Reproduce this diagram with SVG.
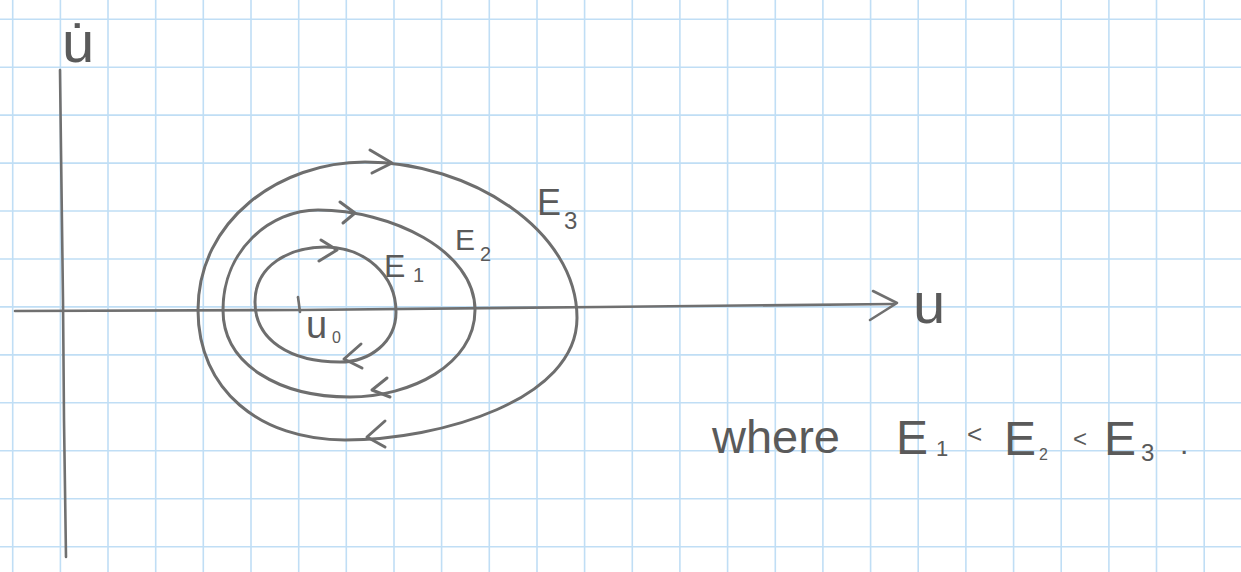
<svg xmlns="http://www.w3.org/2000/svg" width="1241" height="572" viewBox="0 0 1241 572">
<defs>
<style>
.g{stroke:#c0def5;stroke-width:1.6;fill:none}
.p{stroke:#6e6e6e;stroke-width:3;fill:none;stroke-linecap:round;stroke-linejoin:round}
.ax{stroke:#707070;stroke-width:2.6;fill:none;stroke-linecap:round;stroke-linejoin:round}
.t{font-family:"Liberation Sans","DejaVu Sans",sans-serif;fill:#5a5a5a}
</style>
</defs>
<rect width="1241" height="572" fill="#ffffff"/>
<g id="grid">
<path class="g" d="M12.7,0V572M60.4,0V572M108,0V572M155.7,0V572M203.3,0V572M251,0V572M298.7,0V572M346.3,0V572M394,0V572M441.6,0V572M489.3,0V572M537,0V572M584.6,0V572M632.3,0V572M679.9,0V572M727.6,0V572M775.3,0V572M822.9,0V572M870.6,0V572M918.2,0V572M965.9,0V572M1013.6,0V572M1061.2,0V572M1108.9,0V572M1156.5,0V572M1204.2,0V572"/>
<path class="g" d="M0,19.2H1241M0,67.2H1241M0,115.1H1241M0,163.1H1241M0,211H1241M0,259H1241M0,306.9H1241M0,354.9H1241M0,402.8H1241M0,450.8H1241M0,498.7H1241M0,546.7H1241"/>
</g>
<g id="connectors">
<path id="u-axis" class="ax" d="M15,311 L300,310 L600,307 L893,304"/>
<polyline class="ax" points="873,291 897,303 870,320"/>
<path id="udot-axis" class="ax" d="M60,70 L61,150 L63,300 L64,420 L66,557"/>
<path id="u0-tick" class="ax" d="M298,297 L300,312"/>
</g>
<g id="orbit-E1">
<path class="p" d="M255,302 C255,265 290,247 325,247 C365,247 396,275 396,312 C396,342 370,362 340,362 C290,362 255,340 255,302 Z"/>
<polyline class="p" points="321,240 337,250 319,261"/>
<polyline class="p" points="361,344 344,359 362,368"/>
</g>
<g id="orbit-E2">
<path class="p" d="M223,310 C223,250 270,210 318,210 C390,210 475,250 475,310 C475,365 410,397 350,397 C280,397 223,365 223,310 Z"/>
<polyline class="p" points="340,202 355,213 343,223"/>
<polyline class="p" points="387,378 372,390 390,397"/>
</g>
<g id="orbit-E3">
<path class="p" d="M198,310 C198,220 280,162 365,162 C470,162 577,230 577,318 C577,400 440,440 345,440 C260,440 198,390 198,310 Z"/>
<polyline class="p" points="370,150 392,163 372,173"/>
<polyline class="p" points="385,421 367,437 385,447"/>
</g>
<g id="labels">
<text class="t" x="62" y="62" font-size="58">u̇</text>
<text class="t" x="913" y="323" font-size="58">u</text>
<text class="t" x="384" y="277" font-size="32">E<tspan x="413" y="282" font-size="20">1</tspan></text>
<text class="t" x="455" y="250" font-size="30">E<tspan x="480" y="261" font-size="20">2</tspan></text>
<text class="t" x="537" y="215" font-size="36">E<tspan x="564" y="229" font-size="24">3</tspan></text>
<text class="t" x="306" y="338" font-size="38">u<tspan x="332" y="343" font-size="16">0</tspan></text>
<text class="t" x="712" y="453" font-size="47">where</text>
<text class="t" font-size="48"><tspan x="896" y="454">E</tspan><tspan x="936" y="456" font-size="22">1</tspan><tspan x="967" y="443" font-size="26">&lt;</tspan><tspan x="1004" y="455">E</tspan><tspan x="1039" y="460" font-size="16">2</tspan><tspan x="1073" y="447" font-size="24">&lt;</tspan><tspan x="1104" y="455">E</tspan><tspan x="1141" y="461" font-size="24">3</tspan><tspan x="1180" y="454" font-size="30">.</tspan></text>
</g>
</svg>
